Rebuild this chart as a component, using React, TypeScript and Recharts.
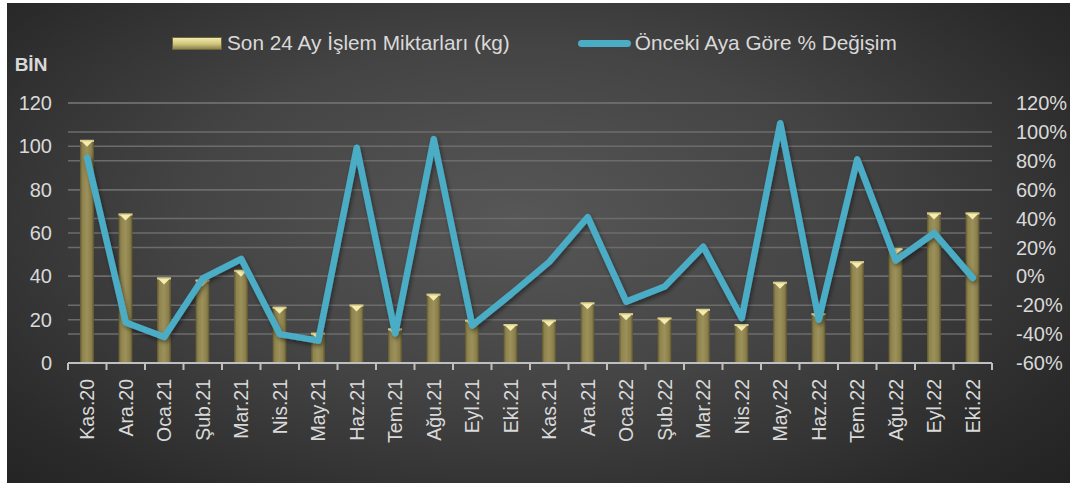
import { ComposedChart, Bar, Line, XAxis, YAxis, CartesianGrid, Legend, Label } from "recharts"

const months = [
  "Kas.20", "Ara.20", "Oca.21", "Şub.21", "Mar.21", "Nis.21", "May.21", "Haz.21",
  "Tem.21", "Ağu.21", "Eyl.21", "Eki.21", "Kas.21", "Ara.21", "Oca.22", "Şub.22",
  "Mar.22", "Nis.22", "May.22", "Haz.22", "Tem.22", "Ağu.22", "Eyl.22", "Eki.22",
]

// thousands of kg
const volumes = [
  103, 69, 39.5, 38.5, 43, 26, 14, 27, 16, 32, 20, 18,
  20, 28, 23, 21, 25, 18, 37.5, 23, 47, 53, 69.5, 69.5,
]

// % change vs previous month
const changes = [
  82, -32, -42, -1.5, 12, -40, -44.5, 89, -39.5, 95, -34, -12.5,
  10, 41, -17.5, -7, 20.5, -29, 106, -30, 81, 11, 30, -1,
]

const leftTicks = [0, 20, 40, 60, 80, 100, 120]
const rightTicks = [-60, -40, -20, 0, 20, 40, 60, 80, 100, 120]

const barName = "Son 24 Ay İşlem Miktarları (kg)"
const lineName = "Önceki Aya Göre % Değişim"

const data = months.map((m, i) => ({ month: m, volume: volumes[i], change: changes[i] }))

const FONT = "'Liberation Sans', Arial, sans-serif"
const TEXT = "#d9d9d9"
const CHART_W = 1063
const CHART_H = 480
const PLOT_LEFT = 61
const PLOT_RIGHT = 985
const BAND = (PLOT_RIGHT - PLOT_LEFT) / months.length

function GoldBar(props: any) {
  const { x, y, width, height } = props
  if (!height || height <= 0) return null
  return (
    <g>
      <rect x={x} y={y} width={width} height={height} fill="url(#goldBody)" />
      <rect x={x} y={y} width={width} height={2} fill="#d8cf8c" />
      <polygon
        points={`${x + 1.5},${y + 1.5} ${x + width - 1.5},${y + 1.5} ${x + width / 2},${y + 7}`}
        fill="#f4ecb0"
      />
    </g>
  )
}

function MonthTick(props: any) {
  const { x, y, payload, index } = props
  const last = index === months.length - 1
  return (
    <g transform={`translate(${x},${y})`}>
      <line x1={-BAND / 2} x2={-BAND / 2} y1={0} y2={7} stroke="#bfbfbf" strokeWidth={2} />
      {last && <line x1={BAND / 2} x2={BAND / 2} y1={0} y2={7} stroke="#bfbfbf" strokeWidth={2} />}
      <text
        transform="rotate(-90)"
        x={-16}
        y={0}
        dy="0.36em"
        textAnchor="end"
        fill={TEXT}
        fontSize={19.5}
        fontFamily={FONT}
      >
        {payload.value}
      </text>
    </g>
  )
}

function ChartLegend() {
  return (
    <div style={{ display: "flex", alignItems: "center", fontFamily: FONT, fontSize: 20.8, color: TEXT, whiteSpace: "nowrap" }}>
      <span
        style={{
          display: "inline-block",
          width: 48,
          height: 11,
          border: "1px solid #6e6538",
          background: "linear-gradient(#f2eaa8, #cfc47c 55%, #8c8250)",
          marginRight: 5,
        }}
      />
      <span>{barName}</span>
      <span
        style={{
          display: "inline-block",
          width: 53,
          height: 7,
          borderRadius: 4,
          background: "#4bacc6",
          marginLeft: 68,
          marginRight: 4,
        }}
      />
      <span>{lineName}</span>
    </div>
  )
}

export default function App() {
  return (
    <div style={{ position: "absolute", left: 0, top: 0, width: 1070, height: 485, background: "#ffffff" }}>
      <svg width={0} height={0} style={{ position: "absolute" }}>
        <defs>
          <linearGradient id="goldBody" x1="0" y1="0" x2="1" y2="0">
            <stop offset="0" stopColor="#5f5730" />
            <stop offset="0.18" stopColor="#8f844f" />
            <stop offset="0.5" stopColor="#9c9159" />
            <stop offset="0.82" stopColor="#8a7f4c" />
            <stop offset="1" stopColor="#5a522d" />
          </linearGradient>
          <filter id="lineShadow" x="-5%" y="-5%" width="110%" height="120%">
            <feDropShadow dx="1.5" dy="2.5" stdDeviation="2" floodColor="#000" floodOpacity="0.45" />
          </filter>
        </defs>
      </svg>
      <div
        style={{
          position: "absolute",
          left: 7,
          top: 3,
          width: CHART_W,
          height: CHART_H,
          background: "radial-gradient(ellipse 70% 80% at 48% 45%, #575757 0%, #444 45%, #2a2a2a 85%, #232323 100%)",
        }}
      >
        <ComposedChart
          width={CHART_W}
          height={CHART_H}
          data={data}
          margin={{ top: 100, right: 0, bottom: 30, left: 11 }}
          barCategoryGap={0}
        >
          <CartesianGrid yAxisId="left" vertical={false} stroke="#6c6c6c" strokeWidth={1.5} />
          <CartesianGrid yAxisId="right" vertical={false} stroke="#6c6c6c" strokeWidth={1.5} />
          <XAxis
            dataKey="month"
            interval={0}
            height={90}
            axisLine={{ stroke: "#bfbfbf", strokeWidth: 2 }}
            tickLine={false}
            tickSize={0}
            tickMargin={0}
            tick={<MonthTick />}
          />
          <YAxis
            yAxisId="left"
            domain={[0, 120]}
            ticks={leftTicks}
            width={50}
            axisLine={false}
            tickLine={false}
            tickSize={0}
            tickMargin={16}
            tick={{ fill: TEXT, fontSize: 20, fontFamily: FONT }}
          >
            <Label
              value="BİN"
              position="top"
              offset={32}
              dx={-12}
              fill={TEXT}
              fontSize={19}
              fontWeight="bold"
              fontFamily={FONT}
            />
          </YAxis>
          <YAxis
            yAxisId="right"
            orientation="right"
            domain={[-60, 120]}
            ticks={rightTicks}
            width={78}
            axisLine={false}
            tickLine={false}
            tickSize={0}
            tickMargin={24}
            tickFormatter={(v: number) => `${v}%`}
            tick={{ fill: TEXT, fontSize: 20, fontFamily: FONT }}
          />
          <Legend
            verticalAlign="middle"
            align="center"
            layout="horizontal"
            wrapperStyle={{ top: 28, left: 165, width: 780, height: 24 }}
            content={() => <ChartLegend />}
          />
          <Bar
            yAxisId="left"
            dataKey="volume"
            name={barName}
            barSize={14}
            shape={<GoldBar />}
            isAnimationActive={false}
          />
          <Line
            yAxisId="right"
            type="linear"
            dataKey="change"
            name={lineName}
            stroke="#4bacc6"
            strokeWidth={6.5}
            strokeLinejoin="round"
            strokeLinecap="round"
            dot={false}
            activeDot={false}
            filter="url(#lineShadow)"
            isAnimationActive={false}
          />
        </ComposedChart>
      </div>
    </div>
  )
}
